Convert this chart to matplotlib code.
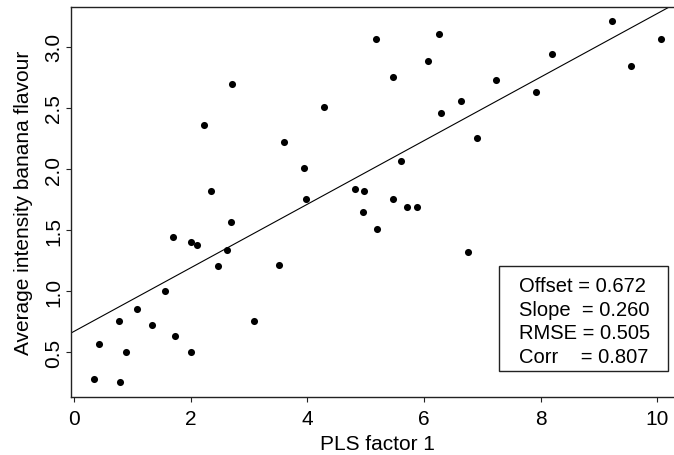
import matplotlib
matplotlib.use("Agg")
import matplotlib.pyplot as plt

# PLS factor 1 scores and average banana-flavour intensity per sample
pls_factor1 = [0.337, 0.795, 0.429, 0.886, 0.777, 1.074, 1.332, 1.560, 1.737, 2.011,
               1.697, 2.006, 2.103, 2.463, 2.623, 2.686, 3.080, 3.515, 2.709, 2.229,
               2.349, 3.600, 3.937, 3.977, 4.286, 5.177, 5.469, 6.263, 6.069, 6.286,
               6.629, 5.611, 4.823, 4.972, 5.474, 4.960, 5.703, 5.875, 5.189, 6.755,
               7.229, 6.915, 7.920, 8.195, 9.223, 9.543, 10.058]
banana_flavour = [0.280, 0.258, 0.569, 0.504, 0.755, 0.855, 0.724, 1.002, 0.635, 0.504,
                  1.444, 1.403, 1.379, 1.207, 1.338, 1.567, 0.757, 1.215, 2.695, 2.360,
                  1.820, 2.221, 2.008, 1.755, 2.507, 3.063, 2.752, 3.104, 2.883, 2.458,
                  2.556, 2.065, 1.836, 1.820, 1.755, 1.648, 1.689, 1.689, 1.509, 1.321,
                  2.728, 2.253, 2.630, 2.940, 3.210, 2.842, 3.063]

# Fit statistics
offset = 0.672
slope = 0.260
rmse = 0.505
corr = 0.807

x_ticks = [0, 2, 4, 6, 8, 10]
y_ticks = [0.5, 1.0, 1.5, 2.0, 2.5, 3.0]

plt.rcParams["font.family"] = ["Liberation Sans", "DejaVu Sans"]

W, H = 674, 456
fig = plt.figure(figsize=(W / 100, H / 100), dpi=100)


def fx(px):
    return px / W


def fy(py):
    return 1 - py / H


x_lim = (-0.05, 10.45)
y_lim = (0.138, 3.325)
left_px, right_px = 71.1, 683.6
top_px, bottom_px = 8.0, 397.7
ax = fig.add_axes([fx(left_px), fy(bottom_px),
                   (right_px - left_px) / W, (bottom_px - top_px) / H])

ax.scatter(pls_factor1, banana_flavour, s=26, color="black", linewidths=0, zorder=3)
ax.axline((0, offset), slope=slope, color="black", lw=0.8)

ax.set_xlim(*x_lim)
ax.set_ylim(*y_lim)
ax.set_xticks(x_ticks)
ax.set_xticklabels([str(t) for t in x_ticks])
ax.set_yticks(y_ticks)
ax.set_yticklabels([f"{t:.1f}" for t in y_ticks], rotation=90, va="center")

for sp in ax.spines.values():
    sp.set_linewidth(1.0)
    sp.set_color("#222222")

ax.tick_params(axis="both", direction="out", length=3.6, width=0.8,
               labelsize=15, color="#222222")
ax.tick_params(axis="x", pad=5.6)
ax.tick_params(axis="y", pad=2.2)

fig.text(fx(377), fy(450), "PLS factor 1", ha="center", va="baseline", fontsize=15)
fig.text(fx(23.5), fy(203), "Average intensity banana flavour", rotation=90,
         ha="center", va="center", fontsize=15)

# Statistics box
box_l, box_r, box_t, box_b = 499.3, 668.3, 267.3, 372.3
ax.add_patch(plt.Rectangle((fx(box_l), fy(box_b)), (box_r - box_l) / W,
                           (box_b - box_t) / H, transform=fig.transFigure,
                           fill=False, edgecolor="#222222", lw=1.0, zorder=5))
stat_lines = [f"Offset = {offset:.3f}", f"Slope  = {slope:.3f}",
              f"RMSE = {rmse:.3f}", f"Corr    = {corr:.3f}"]
line_centers = [287, 310.5, 334, 357.5]
for txt, cy in zip(stat_lines, line_centers):
    fig.text(fx(519), fy(cy), txt, ha="left", va="center", fontsize=14.5)

fig.savefig("out.png", dpi=100)
